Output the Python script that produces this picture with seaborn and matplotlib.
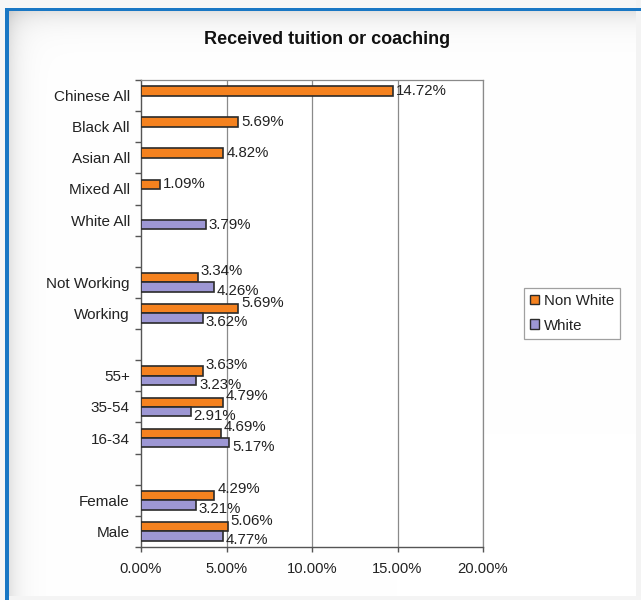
import numpy as np
import pandas as pd
import matplotlib
matplotlib.use("Agg")
import matplotlib.pyplot as plt
from matplotlib.patches import Patch
from matplotlib.ticker import FixedLocator, FuncFormatter
import seaborn as sns

# Survey groups (top to bottom); blank-named rows act as spacers between blocks
categories = ["Chinese All", "Black All", "Asian All", "Mixed All", "White All", " ",
              "Not Working", "Working", "  ", "55+", "35-54", "16-34", "   ",
              "Female", "Male"]
non_white = [14.72, 5.69, 4.82, 1.09, None, None, 3.34, 5.69, None,
             3.63, 4.79, 4.69, None, 4.29, 5.06]
white = [None, None, None, None, 3.79, None, 4.26, 3.62, None,
         3.23, 2.91, 5.17, None, 3.21, 4.77]
series = ["Non White", "White"]
x_ticks = [0, 5, 10, 15, 20]

ORANGE = "#f5821f"
PURPLE = "#9d97d4"
EDGE = "#2b2b2b"
TEXT = "#222222"

rows = []
for name, values in zip(series, [non_white, white]):
    for cat, v in zip(categories, values):
        if v is not None:
            rows.append({"group": cat, "series": name, "value": v})
df = pd.DataFrame(rows)

plt.rcParams["font.family"] = ["Liberation Sans", "DejaVu Sans"]

W, H = 641, 600
fig = plt.figure(figsize=(W / 100, H / 100), dpi=100)
fig.patch.set_facecolor("white")

# Framed panel background: light surround, blue border, soft inner shadow
bg = np.ones((H, W, 3))
yy, xx = np.mgrid[0:H, 0:W]
shade = (1 - 0.11 * np.exp(-np.clip(yy - 11, 0, None) / 12.0)) * \
        (1 - 0.11 * np.exp(-np.clip(xx - 9, 0, None) / 11.0))
bg *= shade[..., None]
outer = (yy < 8) | (xx < 5)
bg[outer] = 0.965
bg[(xx >= 636)] = 0.955
bg[(yy >= 596) & (xx >= 9)] = 0.96
blue = np.array([0.10, 0.47, 0.77])
bg[(yy >= 8) & (yy < 11) & (xx >= 5)] = blue
bg[(xx >= 5) & (xx < 9) & (yy >= 8)] = blue
fig.figimage(bg, xo=0, yo=0, zorder=-10)

ax = fig.add_axes([141 / W, 1 - 547 / H, (483 - 141) / W, (547 - 80) / H])
ax.set_facecolor("white")

sns.barplot(data=df, y="group", x="value", hue="series", order=categories,
            hue_order=series, palette=[ORANGE, PURPLE], orient="h", width=0.6,
            edgecolor=EDGE, linewidth=1.2, saturation=1, errorbar=None,
            legend=False, ax=ax, zorder=3)

ax.set_xlim(0, 20)
ax.set_ylim(len(categories) - 0.5, -0.5)
ax.xaxis.set_major_locator(FixedLocator(x_ticks))
ax.xaxis.set_major_formatter(FuncFormatter(lambda v, p: f"{v:.2f}%"))
ax.set_xlabel("")
ax.set_ylabel("")

# vertical gridlines
for xv in x_ticks[1:]:
    ax.axvline(xv, color="#8a8a8a", lw=0.9, zorder=1)

for side in ["top", "right"]:
    ax.spines[side].set_color("#8a8a8a")
    ax.spines[side].set_linewidth(0.9)
for side in ["left", "bottom"]:
    ax.spines[side].set_color("#555555")
    ax.spines[side].set_linewidth(1.0)

ax.set_yticks(range(len(categories)))
ax.set_yticklabels(categories)
ax.yaxis.set_minor_locator(FixedLocator(np.arange(-0.5, len(categories), 1.0)))
ax.tick_params(axis="y", which="major", length=0, pad=8, labelsize=11, labelcolor=TEXT)
ax.tick_params(axis="y", which="minor", length=4, width=1.0, color="#555555", direction="out")
ax.tick_params(axis="x", which="major", length=3.5, width=1.0, color="#555555", pad=7,
               labelsize=10.6, labelcolor=TEXT)

# value labels at the bar ends
for s_idx, values in enumerate([non_white, white]):
    other = white if s_idx == 0 else non_white
    for i, v in enumerate(values):
        if v is None:
            continue
        ypos = i + (-0.15 if s_idx == 0 else 0.15)
        if other[i] is None:
            dy = 0
        else:
            dy = 4.5 if s_idx == 0 else -3
        ax.annotate(f"{v:.2f}%", xy=(v, ypos), xytext=(2, dy),
                    textcoords="offset points", ha="left", va="center",
                    fontsize=10.8, color=TEXT, zorder=5)

fig.text(327 / W, 1 - 40 / H, "Received tuition or coaching", ha="center", va="center",
         fontsize=13, fontweight="bold", color="#111111")

handles = [Patch(facecolor=ORANGE, edgecolor=EDGE, lw=1.0, label="Non White"),
           Patch(facecolor=PURPLE, edgecolor=EDGE, lw=1.0, label="White")]
leg = fig.legend(handles=handles, loc="upper left", bbox_to_anchor=(524 / W, 1 - 288 / H),
                 borderaxespad=0, frameon=True, fancybox=False, framealpha=1,
                 edgecolor="#a0a0a0", handlelength=0.6, handleheight=0.6,
                 handletextpad=0.3, borderpad=0.4, labelspacing=0.7, fontsize=10.8)
leg.get_frame().set_linewidth(0.9)
for t in leg.get_texts():
    t.set_color(TEXT)

fig.savefig("out.png", dpi=100)
